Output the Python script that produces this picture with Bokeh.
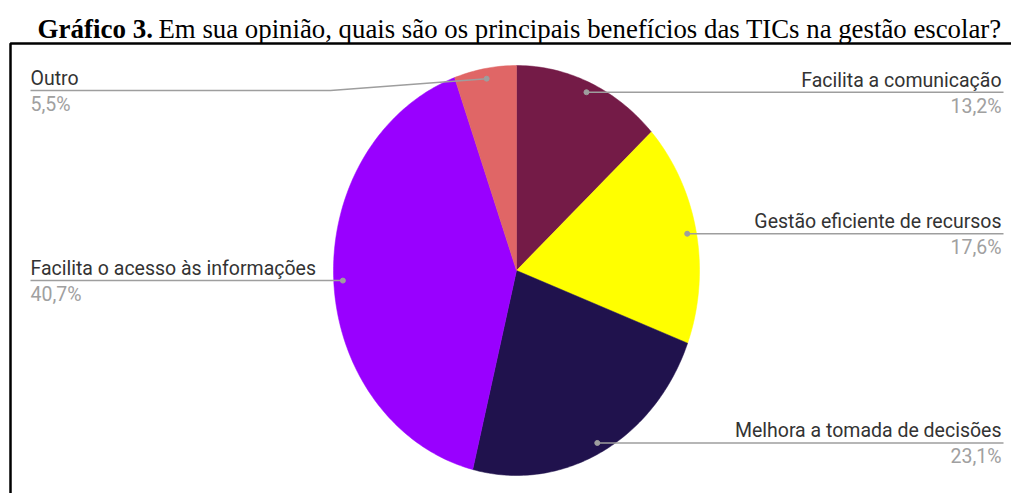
import math
from bokeh.plotting import figure
from bokeh.models import Range1d
from bokeh.core.properties import value
from bokeh.embed import file_html
from bokeh.resources import INLINE

# ---- data ----
categories = ["Facilita a comunicação", "Gestão eficiente de recursos",
              "Melhora a tomada de decisões", "Facilita o acesso às informações", "Outro"]
values = [13.2, 17.6, 23.1, 40.7, 5.5]
pct_labels = ["13,2%", "17,6%", "23,1%", "40,7%", "5,5%"]
colors = ["#741b47", "#ffff00", "#20124d", "#9900ff", "#e06666"]
title_bold = "Gráfico 3."
title_rest = "Em sua opinião, quais são os principais benefícios das TICs na gestão escolar?"

# ---- layout (pixel-like coordinates) ----
W, H = 1011, 493
cx, cy, rx, ry = 516, 270, 183, 205

p = figure(width=W, height=H, output_backend="svg", toolbar_location=None,
           x_range=Range1d(0, W), y_range=Range1d(H, 0),
           min_border=0)
p.axis.visible = False
p.grid.visible = False
p.outline_line_color = None
p.background_fill_color = "white"
p.border_fill_color = "white"

# frame border (left and top)
p.line([10, 10, 1011], [493, 43, 43], line_color="black", line_width=2.5)

# title
p.text(x=[37], y=[28], text=[title_bold], text_font=value("Liberation Serif"),
       text_font_style="bold", text_font_size="27px", text_color="black",
       text_baseline="middle", text_align="left")
p.text(x=[158], y=[28], text=[title_rest], text_font=value("Liberation Serif"),
       text_font_size="26.8px", text_color="black",
       text_baseline="middle", text_align="left")

# pie slices as elliptical wedges, clockwise from 12 o'clock
total = sum(values)
xs, ys = [], []
mids = []
acc = 0.0
for v in values:
    a0 = acc / total * 2 * math.pi
    a1 = (acc + v) / total * 2 * math.pi
    n = max(8, int((a1 - a0) / (2 * math.pi) * 360))
    px, py = [cx], [cy]
    for i in range(n + 1):
        a = a0 + (a1 - a0) * i / n
        px.append(cx + rx * math.sin(a))
        py.append(cy - ry * math.cos(a))
    xs.append(px)
    ys.append(py)
    mids.append((a0 + a1) / 2)
    acc += v

p.patches(xs=xs, ys=ys, fill_color=colors, line_color=colors, line_width=0.5)

# leader lines, dots, labels
line_col = "#9e9e9e"
for lab, pct, m in zip(categories, pct_labels, mids):
    dx = cx + 0.95 * rx * math.sin(m)
    dy = cy - 0.95 * ry * math.cos(m)
    ly = max(dy, 90)
    right = math.sin(m) > 0
    if right:
        lx_end = 1003
        p.line([dx, lx_end], [ly, ly], line_color=line_col, line_width=1.5)
        tx, align = 1001, "right"
    else:
        lx_end = 30
        if ly != dy:
            bx = cx - rx - 3
            p.line([dx, bx, lx_end], [dy, ly, ly], line_color=line_col, line_width=1.5)
        else:
            p.line([dx, lx_end], [ly, ly], line_color=line_col, line_width=1.5)
        tx, align = 30, "left"
    p.scatter([dx], [dy], size=5, fill_color=line_col, line_color=line_col)
    p.text(x=[tx], y=[ly - 12], text=[lab], text_font=value("Roboto"),
           text_font_size="19.5px", text_color="#333333",
           text_baseline="middle", text_align=align)
    p.text(x=[tx], y=[ly + 14], text=[pct], text_font=value("Roboto"),
           text_font_size="19.5px", text_color="#a0a0a0",
           text_baseline="middle", text_align=align)

open("out.html", "w").write(file_html(p, INLINE))
